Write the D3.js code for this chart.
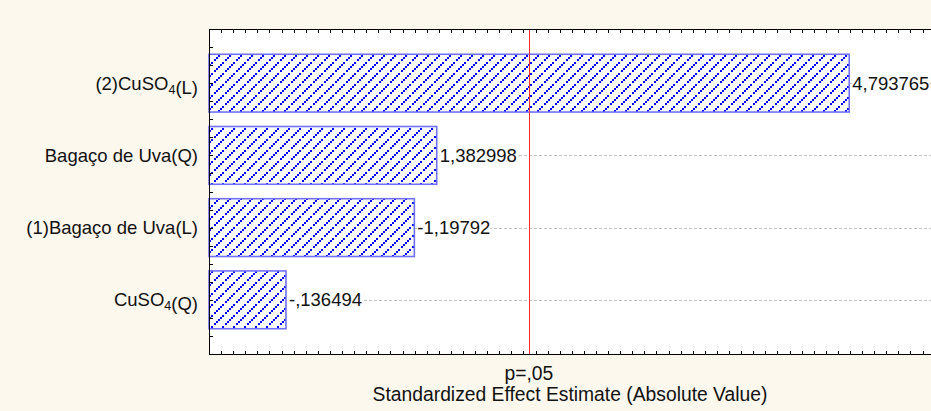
<!DOCTYPE html>
<html>
<head>
<meta charset="utf-8">
<script src="https://cdn.jsdelivr.net/npm/d3@7"></script>
<style>
  html, body { margin: 0; padding: 0; background: #fdf8ee; }
  svg { display: block; }
  text { font-family: "Liberation Sans", Arial, sans-serif; fill: #111; }
</style>
</head>
<body>
<svg id="chart" width="931" height="411"></svg>
<script>
// Pareto chart of standardized effects
const categories = ["(2)CuSO4(L)", "Bagaço de Uva(Q)", "(1)Bagaço de Uva(L)", "CuSO4(Q)"];
const effects = [4.793765, 1.382998, -1.19792, -0.136494];
const pCritical = 2.1448;          // t value for p = .05
const pLabel = "p=,05";
const xTitle = "Standardized Effect Estimate (Absolute Value)";
const xDomain = [-0.5, 5.47];
const tickStep = 0.1;

const plot = { left: 209, right: 931, top: 29, bottom: 354 };
const FONT = 18.5;
const AXIS_FONT = 19.3;

const svg = d3.select("#chart");

const x = d3.scaleLinear().domain(xDomain).range([plot.left, plot.right]);
const y = d3.scaleBand().domain(categories).range([plot.top, plot.bottom])
  .paddingInner(0.2).paddingOuter(0.35);

// hatch fill for bars: dotted "/" diagonals of small squares
const T = 11;
const defs = svg.append("defs");
const pat = defs.append("pattern").attr("id", "hatch")
  .attr("patternUnits", "userSpaceOnUse").attr("width", T).attr("height", T);
pat.append("rect").attr("width", T).attr("height", T).attr("fill", "#fff");
[[0, 9], [2, 7], [5, 4], [7, 2], [9, 0]].forEach(([px, py]) => {
  pat.append("rect").attr("x", px).attr("y", py).attr("width", 2).attr("height", 2).attr("fill", "#0000ff");
});

// plot background
svg.append("rect")
  .attr("x", plot.left).attr("y", plot.top)
  .attr("width", plot.right - plot.left).attr("height", plot.bottom - plot.top)
  .attr("fill", "#fff");

// dashed guide lines at each effect
svg.append("g").selectAll("line").data(categories).join("line")
  .attr("x1", plot.left).attr("x2", plot.right)
  .attr("y1", d => Math.round(y(d) + y.bandwidth() / 2) + 0.5)
  .attr("y2", d => Math.round(y(d) + y.bandwidth() / 2) + 0.5)
  .attr("stroke", "#c4c4c4").attr("stroke-dasharray", "3,2");

// bars (absolute effect)
const rows = categories.map((c, i) => ({ cat: c, v: effects[i] }));
svg.append("g").selectAll("rect").data(rows).join("rect")
  .attr("x", x(xDomain[0]))
  .attr("y", d => y(d.cat))
  .attr("width", d => x(Math.abs(d.v)) - x(xDomain[0]))
  .attr("height", y.bandwidth())
  .attr("fill", "url(#hatch)")
  .attr("stroke", "#7070ff").attr("stroke-width", 1.6);

// value labels
const fmt = v => String(v).replace(".", ",").replace(/^(-?)0,/, "$1,");
const vl = svg.append("g").selectAll("g").data(rows).join("g")
  .attr("transform", d => `translate(${x(Math.abs(d.v)) + 3},${y(d.cat) + y.bandwidth() / 2})`);
vl.append("rect").attr("fill", "#fff");
vl.append("text").attr("y", 6.5).attr("font-size", FONT).text(d => fmt(d.v));
vl.each(function () {
  const g = d3.select(this);
  const b = g.select("text").node().getBBox();
  g.select("rect").attr("x", b.x).attr("y", b.y + 2).attr("width", b.width).attr("height", b.height - 4);
});

// critical value line
svg.append("rect")
  .attr("x", Math.round(x(pCritical))).attr("width", 1)
  .attr("y", plot.top).attr("height", plot.bottom - plot.top)
  .attr("fill", "#ff2a2a");

// frame
const frame = svg.append("g").attr("stroke", "#000").attr("stroke-width", 1);
frame.append("line").attr("x1", plot.left).attr("x2", plot.right).attr("y1", plot.top + 0.5).attr("y2", plot.top + 0.5);
frame.append("line").attr("x1", plot.left).attr("x2", plot.right).attr("y1", plot.bottom + 0.5).attr("y2", plot.bottom + 0.5);
frame.append("line").attr("x1", plot.left + 0.5).attr("x2", plot.left + 0.5).attr("y1", plot.top).attr("y2", plot.bottom + 1);

// x minor ticks (top and bottom, inward)
const xt = d3.range(Math.ceil(xDomain[0] / tickStep), Math.floor(xDomain[1] / tickStep) + 1).map(k => k * tickStep);
const tg = svg.append("g").attr("stroke", "#000").attr("stroke-width", 1);
xt.forEach(t => {
  const px = Math.round(x(t)) + 0.5;
  tg.append("line").attr("x1", px).attr("x2", px).attr("y1", plot.top).attr("y2", plot.top + 4);
  tg.append("line").attr("x1", px).attr("x2", px).attr("y1", plot.bottom + 1).attr("y2", plot.bottom - 3);
});
// y ticks at quarter steps of the category bands
const nQ = Math.round((plot.bottom - plot.top) / (y.step() / 4));
d3.range(1, nQ).forEach(k => {
  const py = Math.round(plot.top + k * y.step() / 4) + 0.5;
  tg.append("line").attr("x1", plot.left).attr("x2", plot.left + 4).attr("y1", py).attr("y2", py);
});

// category labels with chemical subscripts
const cl = svg.append("g").selectAll("text").data(categories).join("text")
  .attr("x", plot.left - 11)
  .attr("y", d => y(d) + y.bandwidth() / 2 + 6.5)
  .attr("text-anchor", "end").attr("font-size", FONT);
cl.each(function (d) {
  const t = d3.select(this);
  const parts = d.split(/(SO4)/);
  parts.forEach(p => {
    if (p === "SO4") {
      t.append("tspan").text("SO");
      t.append("tspan").attr("font-size", FONT * 0.68).attr("dy", 4).text("4");
      t.append("tspan").attr("dy", -4).text("");
    } else if (p) {
      t.append("tspan").text(p);
    }
  });
});

// axis annotations
svg.append("text").attr("x", x(pCritical)).attr("y", 380)
  .attr("text-anchor", "middle").attr("font-size", AXIS_FONT).text(pLabel);
svg.append("text").attr("x", (plot.left + plot.right) / 2).attr("y", 401)
  .attr("text-anchor", "middle").attr("font-size", AXIS_FONT).text(xTitle);
</script>
</body>
</html>
